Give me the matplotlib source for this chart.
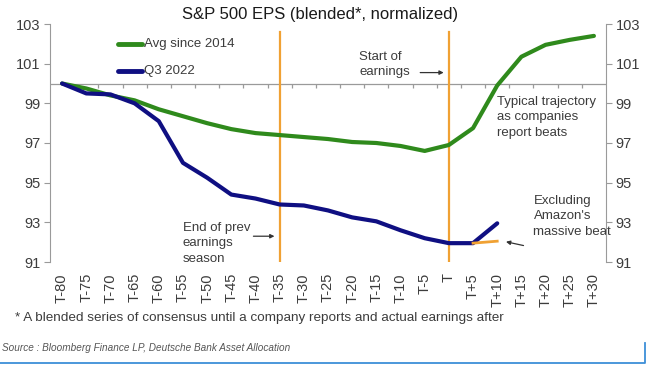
import numpy as np
import matplotlib
matplotlib.use('Agg')
from matplotlib import pyplot as plt

plt.rcParams['font.family'] = ['Liberation Sans', 'DejaVu Sans']

# data
labels = ['T-80', 'T-75', 'T-70', 'T-65', 'T-60', 'T-55', 'T-50', 'T-45', 'T-40',
          'T-35', 'T-30', 'T-25', 'T-20', 'T-15', 'T-10', 'T-5', 'T',
          'T+5', 'T+10', 'T+15', 'T+20', 'T+25', 'T+30']
avg_2014 = [100.0, 99.75, 99.4, 99.15, 98.7, 98.35, 98.0, 97.7, 97.5,
            97.4, 97.3, 97.2, 97.05, 97.0, 96.85, 96.6, 96.9,
            97.75, 99.9, 101.35, 101.95, 102.2, 102.4]
q3_2022 = [100.0, 99.5, 99.45, 99.0, 98.1, 96.0, 95.25, 94.4, 94.2,
           93.9, 93.85, 93.6, 93.25, 93.05, 92.6, 92.2, 91.95,
           91.95, 92.95]
ex_amzn_labels = ['T+5', 'T+10']
ex_amzn = [91.95, 92.05]
event_labels = ['T-35', 'T']

GREEN = '#2f8a1c'
BLUE = '#0f0f82'
ORANGE = '#f0a133'
GRAY = '#9a9a9a'
TXT = '#3c3c3c'

x = np.arange(len(labels))
pos = {l: i for i, l in enumerate(labels)}

fig = plt.figure(figsize=(6.6, 3.8), dpi=100)
ax = fig.add_axes([50/660, 1-262/380, 556/660, 238/380])

ax.set_xlim(-0.5, len(labels) - 0.5)
ax.set_ylim(91, 103)

for l in event_labels:
    ax.plot([pos[l], pos[l]], [91, 102.6], color=ORANGE, lw=1.6, zorder=2)

ax.plot(x, avg_2014, color=GREEN, lw=3, solid_capstyle='round', zorder=3)
ax.plot(x[:len(q3_2022)], q3_2022, color=BLUE, lw=3, solid_capstyle='round', zorder=3)
ax.plot([pos[l] for l in ex_amzn_labels], ex_amzn, color=ORANGE, lw=2, zorder=4)

# y axes on both sides
yt = np.arange(91, 104, 2)
ax.set_yticks(yt)
ax.tick_params(axis='y', direction='out', length=4, color=GRAY, labelsize=10.5,
               labelcolor=TXT, pad=3)
for s in ['top', 'right', 'bottom']:
    ax.spines[s].set_visible(False)
ax.spines['left'].set_color(GRAY)

ax2 = ax.twinx()
ax2.set_ylim(91, 103)
ax2.set_yticks(yt)
ax2.tick_params(axis='y', direction='out', length=4, color=GRAY, labelsize=10.5,
                labelcolor=TXT, pad=3)
for s in ['top', 'left', 'bottom']:
    ax2.spines[s].set_visible(False)
ax2.spines['right'].set_color(GRAY)

# category labels at the bottom
ax.set_xticks(x)
ax.set_xticklabels(labels, rotation=90, fontsize=10.5, color=TXT)
ax.tick_params(axis='x', length=0, pad=8)

# the x axis line crossing at 100, ticks between categories
ax.axhline(100, color=GRAY, lw=0.9, zorder=1)
ax.vlines(np.arange(len(labels) - 1) + 0.5, 99.75, 100, color=GRAY, lw=0.9, zorder=1)

fig.text(320/660, 1-15/380, 'S&P 500 EPS (blended*, normalized)', ha='center',
         va='center', fontsize=12, color='#1a1a1a')

# legend
ax.plot([2.3, 3.3], [102.0, 102.0], color=GREEN, lw=3.5, solid_capstyle='round',
        clip_on=False)
ax.text(3.4, 102.0, 'Avg since 2014', fontsize=9.5, color=TXT, va='center')
ax.plot([2.3, 3.3], [100.65, 100.65], color=BLUE, lw=3.5, solid_capstyle='round',
        clip_on=False)
ax.text(3.4, 100.65, 'Q3 2022', fontsize=9.5, color=TXT, va='center')

# annotations
LS = 1.4
ax.text(12.3, 100.95, 'Start of\nearnings', fontsize=9.5, color=TXT, va='center',
        linespacing=LS)
ax.annotate('', xy=(pos['T'] - 0.1, 100.55), xytext=(pos['T'] - 1.3, 100.55),
            arrowprops=dict(arrowstyle='-|>', color='#333333', lw=0.9,
                            mutation_scale=6))
ax.text(18.0, 98.3, 'Typical trajectory\nas companies\nreport beats', fontsize=9.5,
        color=TXT, va='center', linespacing=LS)
ax.text(5.0, 91.95, 'End of prev\nearnings\nseason', fontsize=9.5, color=TXT,
        va='center', linespacing=LS)
ax.annotate('', xy=(pos['T-35'] - 0.1, 92.3), xytext=(pos['T-35'] - 1.2, 92.3),
            arrowprops=dict(arrowstyle='-|>', color='#333333', lw=0.9,
                            mutation_scale=6))
ax.text(19.5, 93.3, "Excluding\nAmazon's\nmassive beat", fontsize=9.5, color=TXT,
        va='center', linespacing=LS)
ax.annotate('', xy=(pos['T+10'] + 0.25, 92.05), xytext=(pos['T+10'] + 1.2, 91.8),
            arrowprops=dict(arrowstyle='-|>', color='#333333', lw=0.9,
                            mutation_scale=6))

fig.text(15/660, 1-318/380,
         '* A blended series of consensus until a company reports and actual earnings after',
         fontsize=9.7, color=TXT, va='center')
fig.text(2/660, 1-348/380,
         'Source : Bloomberg Finance LP, Deutsche Bank Asset Allocation',
         fontsize=7.2, style='italic', color='#555555', va='center')

# frame line under the source
fig.add_artist(plt.Line2D([0, 645/660, 645/660], [1-363/380, 1-363/380, 1-343/380],
                          transform=fig.transFigure, color='#3d8fd8', lw=1.3))

fig.savefig('out.png', dpi=100)
